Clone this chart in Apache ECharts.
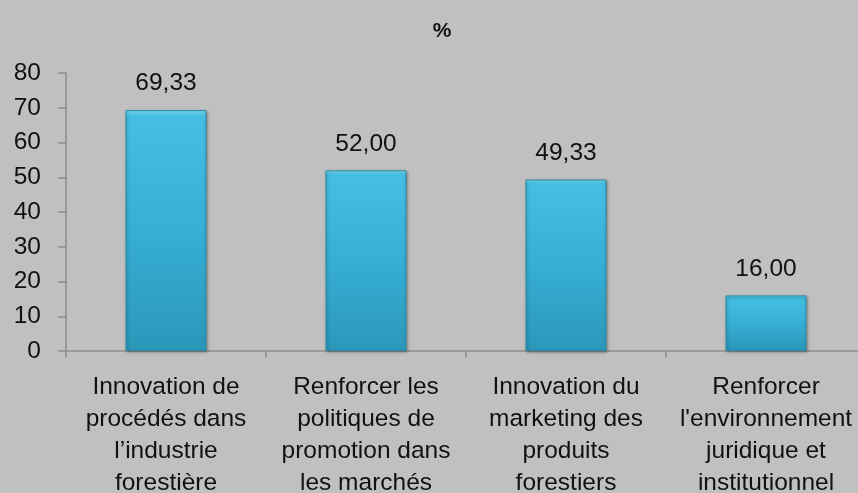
<!DOCTYPE html>
<html>
<head>
<meta charset="utf-8">
<script src="https://cdn.jsdelivr.net/npm/echarts@6/dist/echarts.min.js"></script>
<style>
  html, body { margin: 0; padding: 0; background: #c0c0c0; }
  #chart { width: 858px; height: 493px; }
</style>
</head>
<body>
<div id="chart"></div>
<script>
// valeurs
var categories = [
  'Innovation de\nprocédés dans\nl’industrie\nforestière',
  'Renforcer les\npolitiques de\npromotion dans\nles marchés',
  'Innovation du\nmarketing des\nproduits\nforestiers',
  "Renforcer\nl'environnement\njuridique et\ninstitutionnel"
];
var values = [69.33, 52.00, 49.33, 16.00];
var yTicks = { min: 0, max: 80, interval: 10 };

var FONT = 'Liberation Sans';
var FS = 24.5;

var myChart = echarts.init(document.getElementById('chart'));
myChart.setOption({
  backgroundColor: '#c0c0c0',
  animation: false,
  title: {
    text: '%',
    left: 437,
    top: 16,
    textAlign: 'center',
    textStyle: { fontFamily: FONT, fontSize: 21, fontWeight: 'bold', color: '#111' }
  },
  grid: { left: 66, width: 800, top: 73, bottom: 142, outerBoundsMode: 'none', containLabel: false },
  xAxis: {
    type: 'category',
    data: categories,
    axisLine: { lineStyle: { color: '#8c8c8c', width: 1.5 } },
    axisTick: { show: true, length: 7, alignWithLabel: false, lineStyle: { color: '#8c8c8c', width: 1.5 } },
    axisLabel: {
      interval: 0,
      margin: 20,
      lineHeight: 32,
      fontFamily: FONT,
      fontSize: FS,
      color: '#111'
    }
  },
  yAxis: {
    type: 'value',
    min: yTicks.min,
    max: yTicks.max,
    interval: yTicks.interval,
    splitLine: { show: false },
    axisLine: { show: true, lineStyle: { color: '#8c8c8c', width: 1.5 } },
    axisTick: { show: true, length: 8, lineStyle: { color: '#8c8c8c', width: 1.5 } },
    axisLabel: { margin: 25, fontFamily: FONT, fontSize: FS, color: '#111' }
  },
  series: [{
    type: 'bar',
    data: values,
    barWidth: 81,
    itemStyle: {
      color: new echarts.graphic.LinearGradient(0, 0, 0, 1, [
        { offset: 0, color: '#86e8f8' },
        { offset: 0.025, color: '#44bfe3' },
        { offset: 0.5, color: '#36aed5' },
        { offset: 1, color: '#2b97b9' }
      ]),
      borderColor: '#2a8eab',
      borderWidth: 1,
      shadowColor: 'rgba(0,0,0,0.35)',
      shadowBlur: 3,
      shadowOffsetX: 1,
      shadowOffsetY: 1
    },
    label: {
      show: true,
      position: 'top',
      distance: 14,
      fontFamily: FONT,
      fontSize: FS,
      color: '#111',
      formatter: function (p) { return p.value.toFixed(2).replace('.', ','); }
    }
  }]
});
</script>
</body>
</html>
